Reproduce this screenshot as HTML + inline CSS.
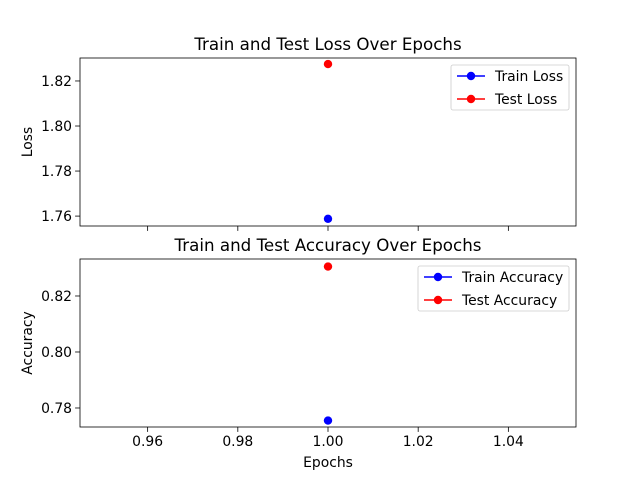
<!DOCTYPE html>
<html><head><meta charset="utf-8"><style>
body{margin:0;background:#fff}
svg{display:block;font-family:"DejaVu Sans","Liberation Sans",sans-serif}
</style></head><body>
<svg id="c" width="640" height="480"></svg>
<script>
const epochs=[1];
const trainLoss=[1.7588];
const testLoss=[1.8275];
const trainAcc=[0.7755];
const testAcc=[0.8305];
const xTicks=[0.96,0.98,1.00,1.02,1.04];
const lossTicks=[1.76,1.78,1.80,1.82];
const accTicks=[0.78,0.80,0.82];
const NS="http://www.w3.org/2000/svg";
const svg=document.getElementById('c');
function mk(t,a,p){const e=document.createElementNS(NS,t);for(const k in a)e.setAttribute(k,a[k]);(p||svg).appendChild(e);return e;}
const X0=80,X1=576,xmin=0.945,xmax=1.055;
const xs=v=>X0+(v-xmin)/(xmax-xmin)*(X1-X0);
function panel(name,top,bot,ymin,ymax,yt,fmt,title,ylabel,series,legend,showX){
  const ys=v=>bot-(v-ymin)/(ymax-ymin)*(bot-top);
  const g=mk('g',{});
  
  
  mk('rect',{x:X0,y:top,width:X1-X0,height:bot-top,fill:'#fff',stroke:'#000','stroke-width':0.8},g);
  xTicks.forEach(t=>{const x=xs(t);mk('line',{x1:x,x2:x,y1:bot,y2:bot+4.9,stroke:'#000','stroke-width':0.8},g);
    if(showX){const tx=mk('text',{x:x,y:bot+19,'text-anchor':'middle','font-size':13.9},g);tx.textContent=t.toFixed(2);}});
  yt.forEach(t=>{const y=ys(t);mk('line',{x1:X0,x2:X0-4.9,y1:y,y2:y,stroke:'#000','stroke-width':0.8},g);
    const tx=mk('text',{x:X0-8,y:y+5,'text-anchor':'end','font-size':13.9},g);tx.textContent=t.toFixed(fmt);});
  const tt=mk('text',{x:(X0+X1)/2,y:top-8,'text-anchor':'middle','font-size':16.7},g);tt.textContent=title;
  
  const yl=mk('text',{x:0,y:0,'text-anchor':'middle','font-size':13.9,transform:`translate(32,${(top+bot)/2}) rotate(-90)`},g);yl.textContent=ylabel;
  
  series.forEach(s=>{s.vals.forEach((v,i)=>{const c=mk('circle',{cx:xs(epochs[i]),cy:ys(v),r:4.2,fill:s.color},g);
    
    });});
  const lg=mk('g',{},g);
  
  
  mk('rect',{x:legend.x,y:legend.y,width:legend.w,height:45,rx:2,fill:'#fff',stroke:'#ccc','stroke-width':0.8},lg);
  series.forEach((s,i)=>{const y=legend.y+11+i*23;
    mk('line',{x1:legend.x+6,x2:legend.x+34,y1:y,y2:y,stroke:s.color,'stroke-width':1.5},lg);
    mk('circle',{cx:legend.x+20,cy:y,r:4.2,fill:s.color},lg);
    const t=mk('text',{x:legend.x+44,y:y+5,'font-size':13.9},lg);t.textContent=s.label;});
}
panel('loss-panel',58,226,1.7556,1.8302,lossTicks,2,'Train and Test Loss Over Epochs','Loss',
 [{id:'train-loss',vals:trainLoss,color:'#0000ff',label:'Train Loss'},{id:'test-loss',vals:testLoss,color:'#ff0000',label:'Test Loss'}],
 {x:451,y:65,w:118},false);
panel('accuracy-panel',259,427,0.77321,0.83321,accTicks,2,'Train and Test Accuracy Over Epochs','Accuracy',
 [{id:'train-accuracy',vals:trainAcc,color:'#0000ff',label:'Train Accuracy'},{id:'test-accuracy',vals:testAcc,color:'#ff0000',label:'Test Accuracy'}],
 {x:418,y:266,w:151},true);
const xl=mk('text',{x:328,y:467,'text-anchor':'middle','font-size':13.9});xl.textContent='Epochs';


</script>
</body></html>
